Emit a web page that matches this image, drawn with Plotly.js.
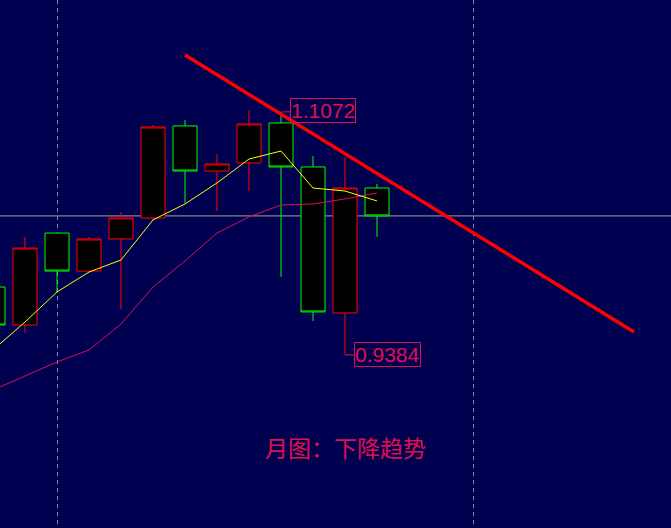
<!DOCTYPE html>
<html>
<head>
<meta charset="utf-8">
<script src="https://cdn.plot.ly/plotly-3.0.1.min.js"></script>
<style>html,body{margin:0;padding:0;background:#000050;}#chart{width:671px;height:528px;}</style>
</head>
<body>
<div id="chart"></div>
<script>
// Monthly candles (index 0 = leftmost, partially visible)
const candleIndex = [0, 1, 2, 3, 4, 5, 6, 7, 8, 9, 10, 11, 12];
const openPrices  = [0.9856, 0.9592, 1.0231, 0.9967, 1.0190, 1.0336, 1.0975, 1.0662, 1.0718, 1.0996, 1.0690, 0.9676, 1.0544];
const highPrices  = [0.9905, 1.0204, 1.0231, 1.0204, 1.0377, 1.0982, 1.1016, 1.0780, 1.1086, 1.1072, 1.0766, 1.0759, 1.0572];
const lowPrices   = [0.9558, 0.9537, 0.9815, 0.9967, 0.9703, 1.0322, 1.0440, 1.0384, 1.0523, 0.9926, 0.9620, 0.9384, 1.0204];
const closePrices = [0.9592, 1.0127, 0.9967, 1.0190, 1.0336, 1.0968, 1.0662, 1.0711, 1.0989, 1.0690, 0.9683, 1.0544, 1.0350];

// Moving averages
const ma5  = [0.9419, 0.9613, 0.9822, 0.9960, 1.0044, 1.0322, 1.0433, 1.0579, 1.0745, 1.0801, 1.0544, 1.0523, 1.0454];
const ma10 = [0.9141, 0.9238, 0.9335, 0.9419, 0.9599, 0.9856, 1.0037, 1.0231, 1.0343, 1.0426, 1.0433, 1.0468, 1.0509];

// Downtrend line
const trendX = [6.0, 20.03];
const trendY = [1.1468, 0.9544];

const currentPrice = 1.0350;
const highLabel = "1.1072", highValue = 1.1072, highIndex = 9;
const lowLabel = "0.9384", lowValue = 0.9384, lowIndex = 11;
const gridIndex = [2, 15];
const caption = "月图：下降趋势";

const crimson = "#e0104c";

const traces = [
  {
    type: "candlestick",
    x: candleIndex, open: openPrices, high: highPrices, low: lowPrices, close: closePrices,
    increasing: {line: {color: "#ff0000", width: 1}, fillcolor: "#000000"},
    decreasing: {line: {color: "#00ff00", width: 1}, fillcolor: "#000000"},
    whiskerwidth: 0,
    hoverinfo: "skip",
    showlegend: false
  },
  {
    type: "scatter", mode: "lines", x: candleIndex, y: ma10,
    line: {color: "#e01050", width: 1}, hoverinfo: "skip", showlegend: false
  },
  {
    type: "scatter", mode: "lines", x: candleIndex, y: ma5,
    line: {color: "#ffff00", width: 1}, hoverinfo: "skip", showlegend: false
  },
  {
    type: "scatter", mode: "lines", x: trendX, y: trendY,
    line: {color: "#ff0000", width: 3.5}, hoverinfo: "skip", showlegend: false
  }
];

const layout = {
  width: 671, height: 528,
  margin: {l: 0, r: 0, t: 0, b: 0, pad: 0},
  paper_bgcolor: "#000050",
  plot_bgcolor: "#000050",
  showlegend: false,
  boxgap: 0.25,
  boxgroupgap: 0,
  xaxis: {
    range: [0.21875, 21.1875],
    rangeslider: {visible: false},
    tickvals: gridIndex,
    showticklabels: false,
    ticks: "",
    showgrid: true,
    gridcolor: "#8a8aa8",
    griddash: "4px,4px",
    gridwidth: 1,
    zeroline: false,
    showline: false,
    fixedrange: true
  },
  yaxis: {
    range: [0.8182, 1.1850],
    showgrid: false,
    showticklabels: false,
    ticks: "",
    zeroline: false,
    showline: false,
    fixedrange: true
  },
  shapes: [
    {
      type: "line", xref: "paper", x0: 0, x1: 1, yref: "y", y0: currentPrice, y1: currentPrice,
      line: {color: "#a0a0a0", width: 1}, layer: "below"
    }
  ],
  annotations: [
    {
      x: highIndex, y: highValue, xref: "x", yref: "y",
      text: highLabel, showarrow: true, arrowhead: 0, arrowwidth: 1, arrowcolor: crimson,
      ax: 42, ay: -1, standoff: 0,
      font: {family: "Liberation Sans, Arial, sans-serif", size: 21, color: crimson},
      bordercolor: crimson, borderwidth: 1, borderpad: 0
    },
    {
      x: lowIndex, y: lowValue, xref: "x", yref: "y",
      text: lowLabel, showarrow: true, arrowhead: 0, arrowwidth: 1, arrowcolor: crimson,
      ax: 42, ay: 0, standoff: 0,
      font: {family: "Liberation Sans, Arial, sans-serif", size: 21, color: crimson},
      bordercolor: crimson, borderwidth: 1, borderpad: 0
    },
    {
      x: 345.5 / 671, y: 1 - 447 / 528, xref: "paper", yref: "paper",
      xanchor: "center", yanchor: "middle", showarrow: false,
      text: caption,
      font: {family: "Noto Sans CJK SC, sans-serif", size: 23, color: crimson}
    }
  ]
};

Plotly.newPlot("chart", traces, layout, {staticPlot: true, displayModeBar: false});
</script>
</body>
</html>
